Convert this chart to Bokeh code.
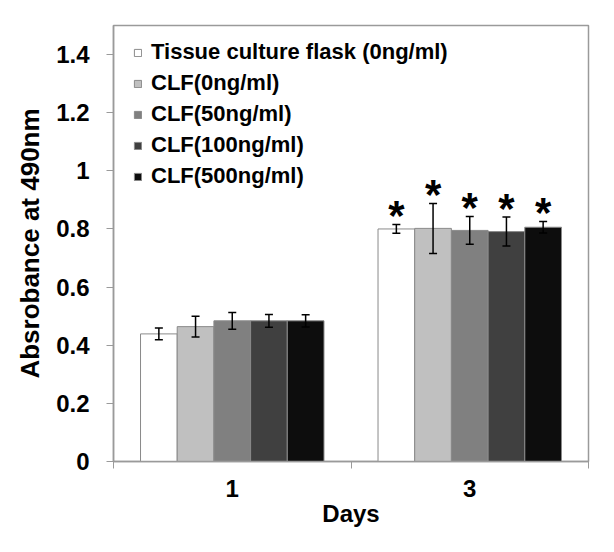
from bokeh.plotting import figure
from bokeh.models import (ColumnDataSource, Range1d, FixedTicker, Whisker, TeeHead,
                          Legend, LegendItem)
from bokeh.core.properties import value
from bokeh.embed import file_html
from bokeh.resources import INLINE

# ---- data ----
days = ["1", "3"]
series = ["Tissue culture flask (0ng/ml)", "CLF(0ng/ml)", "CLF(50ng/ml)",
          "CLF(100ng/ml)", "CLF(500ng/ml)"]
means = [
    [0.439, 0.800],   # Tissue culture flask
    [0.464, 0.802],   # CLF 0
    [0.484, 0.795],   # CLF 50
    [0.484, 0.791],   # CLF 100
    [0.484, 0.806],   # CLF 500
]
errors = [
    [0.020, 0.015],
    [0.036, 0.086],
    [0.029, 0.048],
    [0.022, 0.050],
    [0.021, 0.020],
]
significant = [False, True]
y_ticks = [0, 0.2, 0.4, 0.6, 0.8, 1, 1.2, 1.4]
y_tick_labels = ["0", "0.2", "0.4", "0.6", "0.8", "1", "1.2", "1.4"]

colors = ["#ffffff", "#c0c0c0", "#808080", "#404040", "#0d0d0d"]
FONT = "Liberation Sans"

p = figure(frame_width=475, frame_height=436, min_border_left=113, min_border_top=25,
           min_border_right=20, min_border_bottom=80,
           x_range=Range1d(0, 2), y_range=Range1d(0, 1.5),
           output_backend="svg", toolbar_location=None)

bw = 0.1545
nser = len(series)
items = []
for j, name in enumerate(series):
    off = (j - (nser - 1) / 2) * bw
    xs = [i + 0.5 + off for i in range(len(days))]
    src = ColumnDataSource(dict(x=xs, top=means[j],
                                upper=[m + e for m, e in zip(means[j], errors[j])],
                                lower=[m - e for m, e in zip(means[j], errors[j])]))
    r = p.vbar(x="x", top="top", width=bw, bottom=0, source=src,
               fill_color=colors[j], line_color="#8a8a8a", line_width=1)
    items.append(LegendItem(label=name, renderers=[r]))
    w = Whisker(base="x", upper="upper", lower="lower", source=src,
                line_color="black", line_width=1.5, level="annotation",
                upper_head=TeeHead(size=8, line_width=1.5, line_color="black"),
                lower_head=TeeHead(size=8, line_width=1.5, line_color="black"))
    p.add_layout(w)
    sx = [x for x, s in zip(xs, significant) if s]
    sy = [m + e for m, e, s in zip(means[j], errors[j], significant) if s]
    p.text(x=sx, y=sy, text=["*"] * len(sx), text_align="center",
           text_baseline="alphabetic", y_offset=-9,
           text_font=value(FONT), text_font_style="bold", text_font_size="42px",
           text_color="black")

legend = Legend(items=items, location=(20, 272), border_line_color=None,
                background_fill_alpha=0, padding=0, margin=0,
                glyph_width=9, glyph_height=9, label_standoff=9, spacing=5,
                label_text_font=FONT, label_text_font_style="bold",
                label_text_font_size="22px", label_text_color="black")
p.add_layout(legend)

# y axis
p.yaxis.ticker = FixedTicker(ticks=y_ticks)
p.yaxis.major_label_overrides = {t: l for t, l in zip(y_ticks, y_tick_labels)}
p.yaxis.axis_label = "Absrobance at 490nm"
p.yaxis.major_tick_out = 7
p.yaxis.major_tick_in = 0
p.yaxis.major_label_standoff = 17
p.yaxis.axis_label_standoff = 8

# x axis
p.xaxis.ticker = FixedTicker(ticks=[0.5, 1.5], minor_ticks=[0, 1, 2])
p.xaxis.major_label_overrides = {0.5: days[0], 1.5: days[1]}
p.xaxis.axis_label = "Days"
p.xaxis.major_tick_out = 0
p.xaxis.major_tick_in = 0
p.xaxis.minor_tick_out = 7
p.xaxis.minor_tick_in = 0
p.xaxis.major_label_standoff = 11
p.xaxis.axis_label_standoff = 0

for ax in (p.xaxis, p.yaxis):
    ax.axis_line_color = "#9a9a9a"
    ax.axis_line_width = 1.5
    ax.major_tick_line_color = "#9a9a9a"
    ax.major_label_text_font = FONT
    ax.major_label_text_font_style = "bold"
    ax.major_label_text_font_size = "24px"
    ax.major_label_text_color = "black"
    ax.axis_label_text_font = FONT
    ax.axis_label_text_font_style = "bold"
    ax.axis_label_text_color = "black"

p.xaxis.minor_tick_line_color = "#9a9a9a"
p.yaxis.minor_tick_line_color = None
p.xaxis.axis_label_text_font_size = "24px"
p.yaxis.axis_label_text_font_size = "26px"

p.xgrid.grid_line_color = None
p.ygrid.grid_line_color = None
p.outline_line_color = "#9a9a9a"
p.outline_line_width = 1.5
p.background_fill_color = "white"
p.border_fill_color = "white"

open("out.html", "w").write(file_html(p, INLINE))
